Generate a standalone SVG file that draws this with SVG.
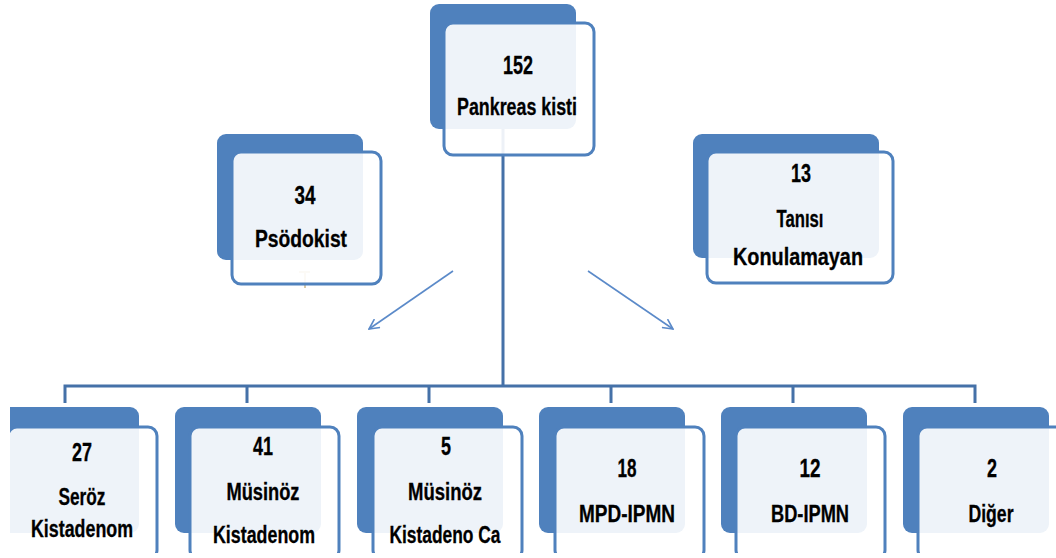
<svg xmlns="http://www.w3.org/2000/svg" width="1056" height="558" viewBox="0 0 1056 558">
<defs>
<style>
.back{fill:#4F81BD;}
.front{fill:#FFFFFF;fill-opacity:0.9;stroke:#4F81BD;stroke-width:3;}
.conn{fill:none;stroke:#4571A8;stroke-width:3;}
.arr{fill:none;stroke:#5B8AC9;stroke-width:1.6;}
.num{font-family:"Liberation Sans",Arial,sans-serif;font-weight:bold;font-size:25px;fill:#000;stroke:#000;stroke-width:0.3;text-anchor:middle;}
.lbl{font-family:"Liberation Sans",Arial,sans-serif;font-weight:bold;font-size:23px;fill:#000;stroke:#000;stroke-width:0.3;text-anchor:middle;}
</style>
<marker id="vhead" viewBox="0 0 12 12" refX="11" refY="6" markerWidth="12" markerHeight="12" markerUnits="userSpaceOnUse" orient="auto">
<path d="M1,1 L11,6 L1,11" fill="none" stroke="#5B8AC9" stroke-width="1.6"/>
</marker>
<clipPath id="crop"><rect x="10" y="0" width="1046" height="553"/></clipPath>
</defs>
<rect width="1056" height="558" fill="#FFFFFF"/>
<g clip-path="url(#crop)">
<g id="connectors">
<path class="conn" d="M503,129 V386"/>
<path class="conn" d="M65,403 V386 H975 V403"/>
<path class="conn" d="M247,386 V403 M429,386 V403 M611,386 V403 M793,386 V403"/>
<path class="arr" d="M453,271 L369,329" marker-end="url(#vhead)"/>
<path class="arr" d="M588,271 L673,329" marker-end="url(#vhead)"/>
<path d="M299,272 H310 M305,272 V288" fill="none" stroke="#D9C9A6" stroke-width="2"/>
</g>
<g id="n-pankreas">
<rect class="back" x="430" y="4" width="146" height="125" rx="9"/>
<rect class="front" x="444" y="23" width="150" height="132" rx="9"/>
<text class="num" x="518" y="74" textLength="30" lengthAdjust="spacingAndGlyphs">152</text>
<text class="lbl" x="517" y="115" textLength="120" lengthAdjust="spacingAndGlyphs">Pankreas kisti</text>
</g>
<g id="n-psodokist">
<rect class="back" x="217" y="134" width="146" height="126" rx="9"/>
<rect class="front" x="232" y="152" width="149" height="132" rx="9"/>
<text class="num" x="305" y="204" textLength="21" lengthAdjust="spacingAndGlyphs">34</text>
<text class="lbl" x="301" y="247" textLength="92" lengthAdjust="spacingAndGlyphs">Psödokist</text>
</g>
<g id="n-tanisi">
<rect class="back" x="693" y="134" width="186" height="124" rx="9"/>
<rect class="front" x="707" y="152" width="186" height="131" rx="9"/>
<text class="num" x="801" y="182" textLength="20" lengthAdjust="spacingAndGlyphs">13</text>
<text class="lbl" x="800" y="227" textLength="47" lengthAdjust="spacingAndGlyphs">Tanısı</text>
<text class="lbl" x="798" y="265" textLength="130" lengthAdjust="spacingAndGlyphs">Konulamayan</text>
</g>
<g id="n-seroz">
<rect class="back" x="-7" y="407" width="146" height="126" rx="9"/>
<rect class="front" x="8" y="427" width="149" height="132" rx="9"/>
<text class="num" x="82" y="461" textLength="20" lengthAdjust="spacingAndGlyphs">27</text>
<text class="lbl" x="82" y="505" textLength="47" lengthAdjust="spacingAndGlyphs">Seröz</text>
<text class="lbl" x="82" y="537" textLength="102" lengthAdjust="spacingAndGlyphs">Kistadenom</text>
</g>
<g id="n-musinoz">
<rect class="back" x="175" y="407" width="146" height="126" rx="9"/>
<rect class="front" x="190" y="427" width="149" height="132" rx="9"/>
<text class="num" x="263" y="455" textLength="20" lengthAdjust="spacingAndGlyphs">41</text>
<text class="lbl" x="263" y="500" textLength="73" lengthAdjust="spacingAndGlyphs">Müsinöz</text>
<text class="lbl" x="264" y="543" textLength="102" lengthAdjust="spacingAndGlyphs">Kistadenom</text>
</g>
<g id="n-musinoz-ca">
<rect class="back" x="357" y="407" width="146" height="126" rx="9"/>
<rect class="front" x="373" y="427" width="149" height="132" rx="9"/>
<text class="num" x="446" y="455" textLength="10" lengthAdjust="spacingAndGlyphs">5</text>
<text class="lbl" x="445" y="500" textLength="74" lengthAdjust="spacingAndGlyphs">Müsinöz</text>
<text class="lbl" x="445" y="543" textLength="111" lengthAdjust="spacingAndGlyphs">Kistadeno Ca</text>
</g>
<g id="n-mpd">
<rect class="back" x="539" y="407" width="146" height="126" rx="9"/>
<rect class="front" x="555" y="427" width="149" height="132" rx="9"/>
<text class="num" x="627" y="477" textLength="19" lengthAdjust="spacingAndGlyphs">18</text>
<text class="lbl" x="627" y="522" textLength="96" lengthAdjust="spacingAndGlyphs">MPD-IPMN</text>
</g>
<g id="n-bd">
<rect class="back" x="721" y="407" width="146" height="126" rx="9"/>
<rect class="front" x="736" y="427" width="149" height="132" rx="9"/>
<text class="num" x="810" y="477" textLength="21" lengthAdjust="spacingAndGlyphs">12</text>
<text class="lbl" x="810" y="522" textLength="78" lengthAdjust="spacingAndGlyphs">BD-IPMN</text>
</g>
<g id="n-diger">
<rect class="back" x="903" y="407" width="146" height="126" rx="9"/>
<rect class="front" x="918" y="427" width="149" height="132" rx="9"/>
<text class="num" x="992" y="477" textLength="10" lengthAdjust="spacingAndGlyphs">2</text>
<text class="lbl" x="991" y="522" textLength="45" lengthAdjust="spacingAndGlyphs">Diğer</text>
</g>
</g>
</svg>
